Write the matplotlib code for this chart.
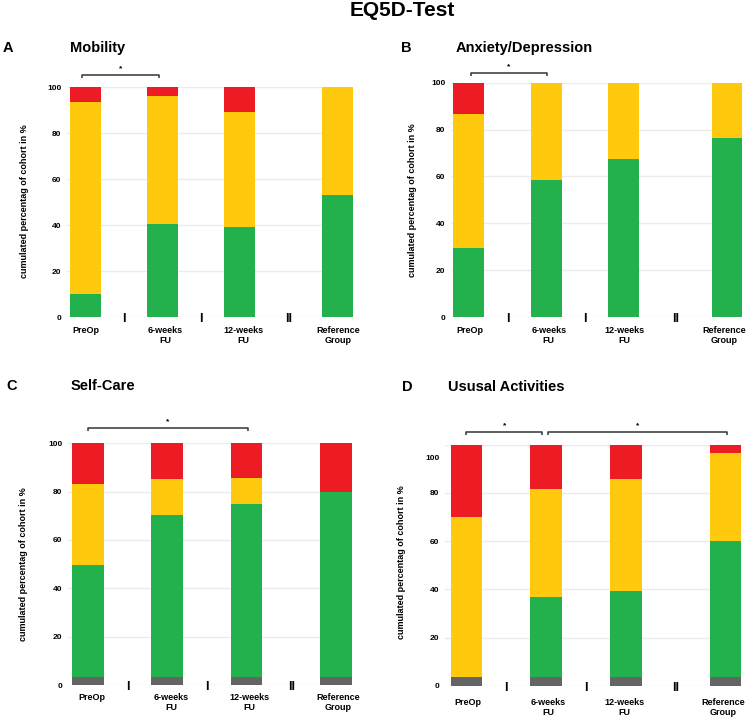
import matplotlib
matplotlib.use("Agg")
import matplotlib.pyplot as plt
import matplotlib.transforms as mtransforms

plt.rcParams["font.family"] = ["Liberation Sans", "DejaVu Sans"]
plt.rcParams["font.weight"] = "bold"

W, H = 749, 720

groups = ["PreOp", "6-weeks\nFU", "12-weeks\nFU", "Reference\nGroup"]
separators = ["I", "I", "II"]

# segment heights in % (bottom to top: gray, green, yellow, red)
mob_green = [10, 40.5, 39, 53]
mob_yellow = [83.4, 55.6, 50.2, 47]
mob_red = [6.6, 3.9, 10.8, 0]

anx_green = [29.3, 58.5, 67.5, 76.6]
anx_yellow = [57.2, 41.5, 32.5, 23.4]
anx_red = [13.5, 0, 0, 0]

self_gray = [3.4, 3.4, 3.4, 3.4]
self_green = [46.4, 66.9, 71.5, 76.5]
self_yellow = [33.5, 14.8, 10.8, 0]
self_red = [16.7, 14.9, 14.3, 20.1]

act_gray = [3.5, 3.5, 3.5, 3.5]
act_green = [0, 33.3, 35.7, 56.4]
act_yellow = [66.6, 44.7, 46.5, 36.6]
act_red = [29.9, 18.5, 14.3, 3.5]

COLORS = {"gray": "#646464", "green": "#22B14C", "yellow": "#FFC90E", "red": "#ED1C24"}


def px_rect(left, right, y0, y100):
  """axes rect in figure fractions from pixel coords"""
  return [left / W, 1 - y0 / H, (right - left) / W, (y0 - y100) / H]


def draw_panel(fig, rect, pos, xlim, segments, brackets, label_dy, label_dx, shift_100=0):
  ax = fig.add_axes(rect)
  bottom = [0] * len(pos)
  for name, vals in segments:
    ax.bar(pos, vals, width=0.4, bottom=bottom, color=COLORS[name], zorder=3)
    bottom = [b + v for b, v in zip(bottom, vals)]
  ax.set_xlim(*xlim)
  ax.set_ylim(0, 100)
  ax.set_yticks([0, 20, 40, 60, 80, 100])
  ax.yaxis.grid(True, color="#ebebeb", lw=1, zorder=0)
  for s in ax.spines.values():
    s.set_visible(False)
  ax.tick_params(axis="y", length=0, pad=4, labelsize=6)
  ax.set_xticks([])
  if shift_100:
    lab = ax.get_yticklabels()[-1]
    off = mtransforms.ScaledTranslation(0, -shift_100 / 100, fig.dpi_scale_trans)
    lab.set_transform(lab.get_transform() + off)
  # group labels
  for p, g, dx in zip(pos, groups, label_dx):
    ax.annotate(g, (p, 0), xytext=(dx, -label_dy), textcoords="offset pixels",
                ha="center", va="top", fontsize=6.5, linespacing=1.15,
                annotation_clip=False)
  # separators between bars
  for k, sep in enumerate(separators):
    xm = (pos[k] + pos[k + 1]) / 2
    ax.text(xm, -0.8, sep, ha="center", va="center", fontsize=9, clip_on=False)
  # significance brackets
  for x1, x2, y in brackets:
    ax.plot([x1, x1, x2, x2], [y - 1.4, y, y, y - 1.4], color="#333333", lw=1.1,
            clip_on=False, solid_capstyle="butt")
    ax.text((x1 + x2) / 2, y + 1.2, "*", ha="center", va="bottom", fontsize=6,
            clip_on=False)
  return ax


fig = plt.figure(figsize=(W / 100, H / 100), dpi=100)

fig.text(402 / W, 1 - 11 / H, "EQ5D-Test", ha="center", va="center", fontsize=15)

# A
draw_panel(fig, px_rect(67, 353, 317, 87), [0, 1, 2, 3.27], (-0.24, 3.47),
           [("green", mob_green), ("yellow", mob_yellow), ("red", mob_red)],
           [(-0.05, 0.95, 105.2)], 9, [0.5, 2.5, 3.5, 0.5])
# B
draw_panel(fig, px_rect(451, 742, 317, 82.7), [0, 1, 2, 3.34], (-0.23, 3.53),
           [("green", anx_green), ("yellow", anx_yellow), ("red", anx_red)],
           [(0.03, 1.01, 104.1)], 9, [1, 2.5, 1, -3])
# C
draw_panel(fig, px_rect(68, 352, 685, 443.3), [0, 1, 2, 3.13], (-0.25, 3.33),
           [("gray", self_gray), ("green", self_green), ("yellow", self_yellow), ("red", self_red)],
           [(0.0, 2.02, 106.3)], 8, [4, 4.5, 2.5, 2])
# D
draw_panel(fig, px_rect(445, 741, 685.7, 444.7), [0, 1, 2, 3.26], (-0.27, 3.45),
           [("gray", act_gray), ("green", act_green), ("yellow", act_yellow), ("red", act_red)],
           [(0.0, 0.95, 105.4), (1.03, 3.28, 105.4)], 12, [1.5, 2, -1.5, -3],
           shift_100=13)

ylab = "cumulated percentag of cohort in %"
for x, y in [(25, 201), (412, 200), (24, 564), (402, 562)]:
  fig.text(x / W, 1 - y / H, ylab, rotation=90, ha="center", va="center", fontsize=6.5)

for letter, lx, title, tx, y in [("A", 8, "Mobility", 70, 48),
                                 ("B", 406, "Anxiety/Depression", 456, 48),
                                 ("C", 12, "Self-Care", 71, 386),
                                 ("D", 407, "Ususal Activities", 448, 387)]:
  fig.text(lx / W, 1 - y / H, letter, ha="center", va="center", fontsize=10.5)
  fig.text(tx / W, 1 - y / H, title, ha="left", va="center", fontsize=10.5)

fig.savefig("out.png", dpi=100)
